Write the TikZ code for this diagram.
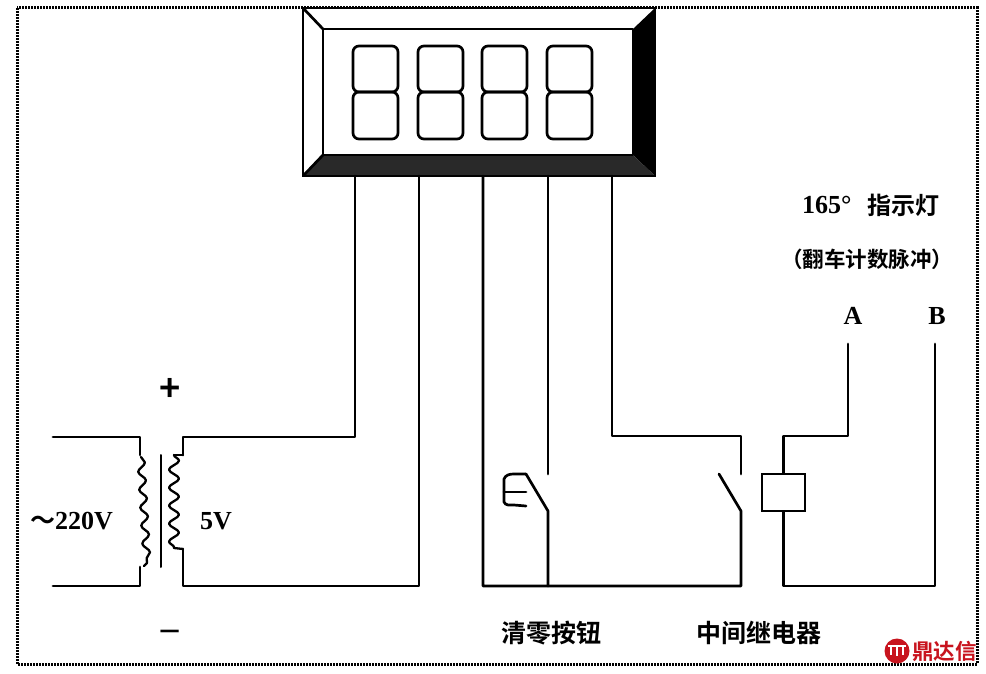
\documentclass[tikz,border=0pt]{standalone}
\usepackage{fontspec}
\setmainfont{Liberation Serif}
\newfontfamily\cjk{Noto Sans CJK SC}[BoldFont={Noto Sans CJK SC Bold}]
\usepackage{xcolor}
\usetikzlibrary{decorations.pathmorphing}
\definecolor{logored}{HTML}{C8141E}
\tikzset{
  wire/.style={black, line width=2.7pt, line cap=round, line join=round},
  thinwire/.style={black, line width=2.3pt, line cap=round, line join=round},
  seg/.style={black, line width=2.7pt, rounded corners=6pt},
  wave/.style={thinwire, decorate, decoration={snake, segment length=18pt, amplitude=3.6pt}},
  bigwave/.style={thinwire, decorate, decoration={snake, segment length=18pt, amplitude=5pt}},
  label/.style={inner sep=0pt, font=\bfseries\fontsize{26}{28}\selectfont},
  cjklabel/.style={inner sep=0pt, font=\cjk\bfseries\fontsize{25}{27}\selectfont},
}
\begin{document}
\begin{tikzpicture}[x=1pt, y=-1pt]
  \useasboundingbox (0,0) rectangle (986,674);
  \fill[white] (0,0) rectangle (986,674);
  % outer frame
  \draw[black, line width=3pt, dash pattern=on 2pt off 1pt] (17,8) rectangle (977,664);

  % display
  \fill[white] (303,8) rectangle (655,176);
  \fill[black] (655,8) -- (633,29) -- (633,155) -- (655,176) -- cycle;
  \fill[black!84] (303,176) -- (323,155) -- (633,155) -- (655,176) -- cycle;
  \draw[black, line width=2.7pt, line join=miter] (303,8) rectangle (655,176);
  \draw[wire] (323,29) rectangle (633,155);
  \draw[wire] (303,8) -- (323,29);
  \draw[wire] (303,176) -- (323,155);
  \foreach \dx in {353,418,482,547} {
    \draw[seg] (\dx,46) rectangle ++(45,46);
    \draw[seg] (\dx,92) rectangle ++(45,47);
  }

  % junctions
  \coordinate (pinA) at (355,176);
  \coordinate (pinB) at (419,176);
  \coordinate (pinC) at (483,176);
  \coordinate (pinD) at (548,176);
  \coordinate (pinE) at (612,176);
  \coordinate (inTop) at (53,437);
  \coordinate (inBot) at (53,586);
  \coordinate (priTop) at (140,437);
  \coordinate (priBot) at (140,586);
  \coordinate (secTop) at (183,437);
  \coordinate (secBot) at (183,586);
  \coordinate (btnTop) at (548,474);
  \coordinate (btnBot) at (548,511);
  \coordinate (btnArm) at (526,474);
  \coordinate (relTop) at (741,474);
  \coordinate (relBot) at (741,511);
  \coordinate (relArm) at (719,474);
  \coordinate (termA) at (848,344);
  \coordinate (termB) at (935,344);

  % transformer
  \draw[wire] (inTop) -- (priTop) -- (140,455);
  \draw[wave] (141,457) -- (147,563);
  \draw[thinwire] (147,563) -- (144,566);
  \draw[wire] (140,567) -- (priBot) -- (inBot);
  \draw[wire, line width=2pt] (161,455) -- (161,567);
  \draw[thinwire] (183,455) -- (174,455);
  \draw[bigwave] (174,455) -- (174,548);
  \draw[thinwire] (174,548) -- (183,549);

  % wiring
  \draw[wire] (183,455) -- (secTop) -- (355,437) -- (pinA);
  \draw[wire] (183,549) -- (secBot) -- (419,586) -- (pinB);
  \draw[wire] (pinC) -- (483,586) -- (741,586) -- (relBot) -- (relArm);
  \draw[wire] (pinD) -- (btnTop);
  \draw[wire] (548,586) -- (btnBot) -- (btnArm);
  \draw[wire] (pinE) -- (612,436) -- (741,436) -- (relTop);

  % reset button
  \draw[wire] (btnArm) -- (514,474) to[out=180, in=70] (504,479) -- (504,502)
     to[out=-70, in=180] (514,505) -- (526,506);
  \draw[wire] (504,492) -- (526,492);

  % relay coil
  \node[draw=black, line width=2.7pt, minimum width=43pt, minimum height=37pt, inner sep=0pt] (coil) at (783.5,492.5) {};
  \draw[wire] (coil.north) -- (783.5,436) -- (848,436) -- (termA);
  \draw[wire] (coil.south) -- (783.5,586) -- (935,586) -- (termB);

  % labels
  \node[cjklabel, font=\cjk\bfseries\fontsize{36}{38}\selectfont] (plus) at (170.5,390) {+};
  \node[cjklabel, font=\cjk\fontsize{38}{40}\selectfont] (minus) at (170.5,638) {−};
  \node[label, anchor=west] (acin) at (30,521) {{\cjk\fontsize{25}{27}\selectfont ～}220V};
  \node[label, anchor=west] (dcout) at (200,521) {5V};
  \node[label, anchor=west] (angle) at (802,205) {165°};
  \node[cjklabel, font=\cjk\bfseries\fontsize{24}{26}\selectfont, anchor=west] (lamp) at (867,205) {指示灯};
  \node[cjklabel, font=\cjk\bfseries\fontsize{21.5}{24}\selectfont, anchor=west] (pulse) at (781,259) {（翻车计数脉冲）};
  \node[label] (nameA) at (853,316) {A};
  \node[label] (nameB) at (937,316) {B};
  \node[cjklabel, anchor=west] (btnname) at (501,633) {清零按钮};
  \node[cjklabel, anchor=west] (relname) at (696,633) {中间继电器};

  % logo
  \fill[logored] (897,651) circle (12.5);
  \draw[white, line width=1.4pt] (891,647) -- (891,655) (897,645) -- (897,656) (903,647) -- (903,655) (888,646) -- (906,646);
  \node[cjklabel, font=\cjk\bfseries\fontsize{21.5}{23}\selectfont, text=logored, anchor=west] (logo) at (912,651) {鼎达信};
\end{tikzpicture}
\end{document}
